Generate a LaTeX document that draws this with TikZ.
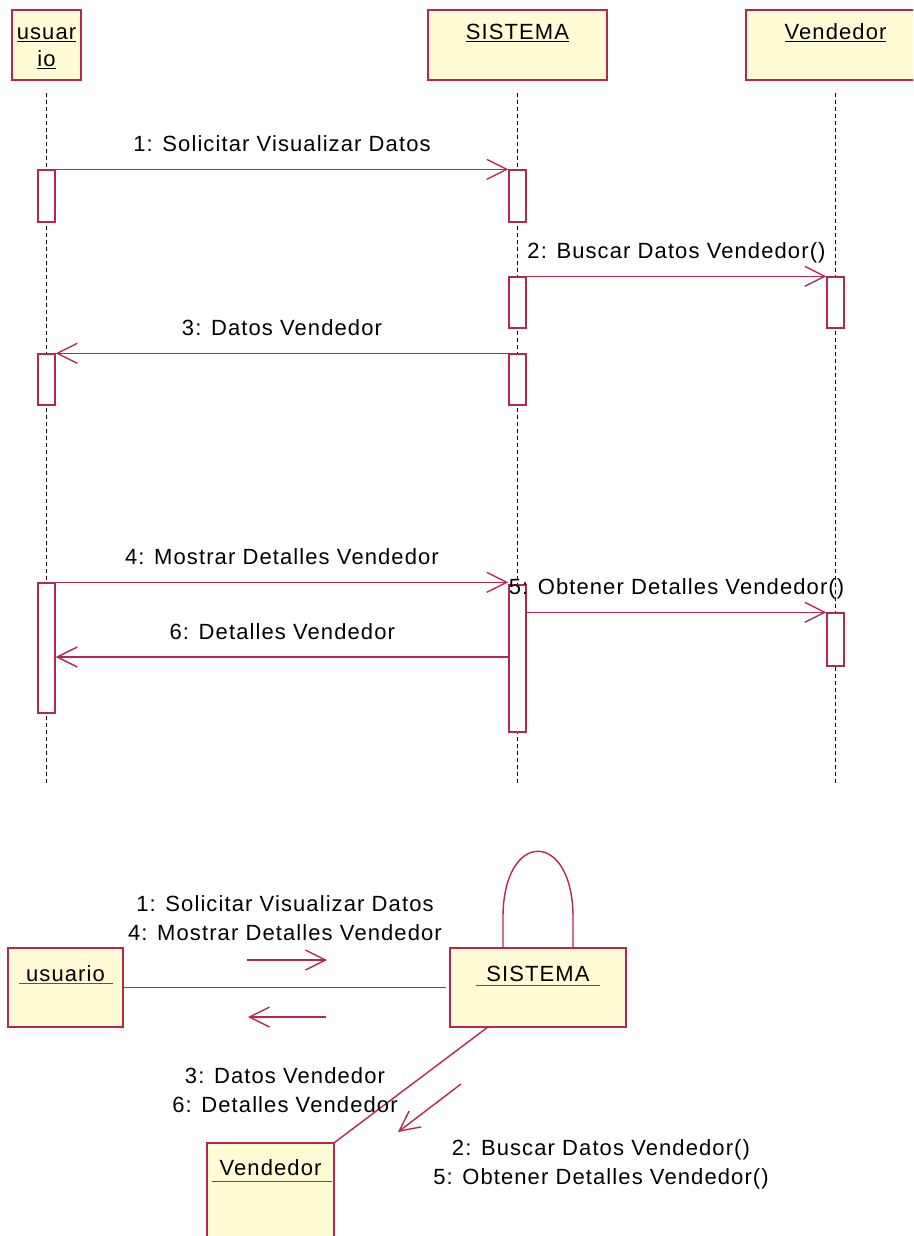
\documentclass[tikz,border=0pt]{standalone}
\usepackage{fontspec}
\setmainfont{Liberation Sans}[LetterSpace=5]
\usetikzlibrary{arrows.meta,calc,positioning}
\definecolor{umlred}{RGB}{180,40,80}
\definecolor{umlyellow}{RGB}{255,251,213}

\begin{document}
\begin{tikzpicture}[x=1pt,y=-1pt,
    font=\fontsize{22}{29}\selectfont,
    head/.style={draw=umlred,fill=umlyellow,line width=1.4pt,minimum width=179pt,minimum height=70pt,inner sep=0},
    act/.style={draw=umlred,fill=white,line width=1.4pt,minimum width=17pt,inner sep=0},
    lifeline/.style={black,line width=1.6pt,dash pattern=on 4pt off 3pt},
    msg/.style={umlred,line width=1.4pt,-{Straight Barb[length=20pt,width=20pt]}},
    msglabel/.style={midway,anchor=base,yshift=18pt,text=black},
    obj/.style={draw=umlred,fill=umlyellow,line width=1.4pt,minimum height=79pt,inner sep=0},
    link/.style={umlred,line width=1.4pt}]
  \useasboundingbox (0,0) rectangle (913,1236);
  \clip (0,0) rectangle (913,1236);
  % Draw the heads of the sequence diagram
  \node[head,minimum width=69pt,
        label={[anchor=base,yshift=-30pt]north:\underline{usuar}},
        label={[anchor=base,yshift=-57pt]north:\underline{io}}] (hu) at (46.5,45) {};
  \node[head,label={[anchor=base,yshift=-30pt]north:\underline{SISTEMA}}] (hs) at (517.5,45) {};
  \node[head,label={[anchor=base,yshift=-30pt]north:\underline{Vendedor}}] (hv) at (835.5,45) {};
  % lifelines
  \coordinate (lend) at (0,785);
  \foreach \h in {hu,hs,hv}
    \draw[lifeline] ($(\h.south)+(0,12)$) -- (\h.south |- lend);
  % activation boxes
  \node[act,minimum height=52pt] (u1) at (46.5,196) {};
  \node[act,minimum height=51pt] (u2) at (46.5,379.5) {};
  \node[act,minimum height=130pt] (u3) at (46.5,648) {};
  \node[act,minimum height=52pt] (s1) at (517.5,196) {};
  \node[act,minimum height=51pt] (s2) at (517.5,302.5) {};
  \node[act,minimum height=51pt] (s3) at (517.5,379.5) {};
  \node[act,minimum height=147pt] (s4) at (517.5,658.5) {};
  \node[act,minimum height=51pt] (v1) at (835.5,302.5) {};
  \node[act,minimum height=53pt] (v2) at (835.5,639.5) {};
  % messages
  \draw[msg] (u1.north east) -- (s1.north west) node[msglabel] {1: Solicitar Visualizar Datos};
  \draw[msg] (s2.north east) -- (v1.north west) node[msglabel] {2: Buscar Datos Vendedor()};
  \draw[msg] (s3.north west) -- (u2.north east) node[msglabel] {3: Datos Vendedor};
  \draw[msg] (u3.north east) -- (u3.north east -| s4.west) node[msglabel] {4: Mostrar Detalles Vendedor};
  \draw[msg] (v2.north west -| s4.east) -- (v2.north west) node[msglabel] {5: Obtener Detalles Vendedor()};
  \coordinate (r6) at (509,657);
  \draw[msg] (r6) -- (r6 -| u3.east) node[msglabel] {6: Detalles Vendedor};
  % Draw the collaboration diagram
  \node[obj,minimum width=115pt,label={[anchor=base,yshift=-34pt]north:usuario}] (cu) at (65.5,987.5) {};
  \draw[link] ($(cu.north west)+(12,36)$) -- ($(cu.north east)+(-11,36)$);
  \node[obj,minimum width=176pt,label={[anchor=base,yshift=-34pt]north:SISTEMA}] (cs) at (538,987.5) {};
  \draw[link] ($(cs.north west)+(27,38)$) -- ($(cs.north east)+(-27,38)$);
  \node[obj,minimum width=127pt,minimum height=120pt,label={[anchor=base,yshift=-33pt]north:Vendedor}] (cv) at (270.5,1203) {};
  \draw[link] ($(cv.north west)+(6,39)$) -- ($(cv.north east)+(-3,39)$);
  % links
  \draw[link] (cu.east) -- ($(cs.west)+(-3,0)$);
  \draw[link] ($(cs.south)+(-51,0)$) -- (cv.north east);
  \draw[link] ($(cs.north)+(-35,0)$) -- ++(0,-30) .. controls +(0,-88) and +(0,-88) .. ($(cs.north)+(35,-30)$) -- ($(cs.north)+(35,0)$);
  % message arrows along the links
  \coordinate (f1) at (247,960);
  \draw[msg] (f1) -- ++(80,0);
  \coordinate (b1) at (326,1017);
  \draw[msg] (b1) -- ++(-78,0);
  \coordinate (d1) at (461,1084);
  \draw[msg] (d1) -- ++(-63,48);
  % message labels
  \node[align=center] (l14) at (285,918) {1: Solicitar Visualizar Datos\\4: Mostrar Detalles Vendedor};
  \node[align=center] (l36) at (285,1090) {3: Datos Vendedor\\6: Detalles Vendedor};
  \node[align=center] (l25) at (601,1164) {2: Buscar Datos Vendedor()\\5: Obtener Detalles Vendedor()};
\end{tikzpicture}
\end{document}
